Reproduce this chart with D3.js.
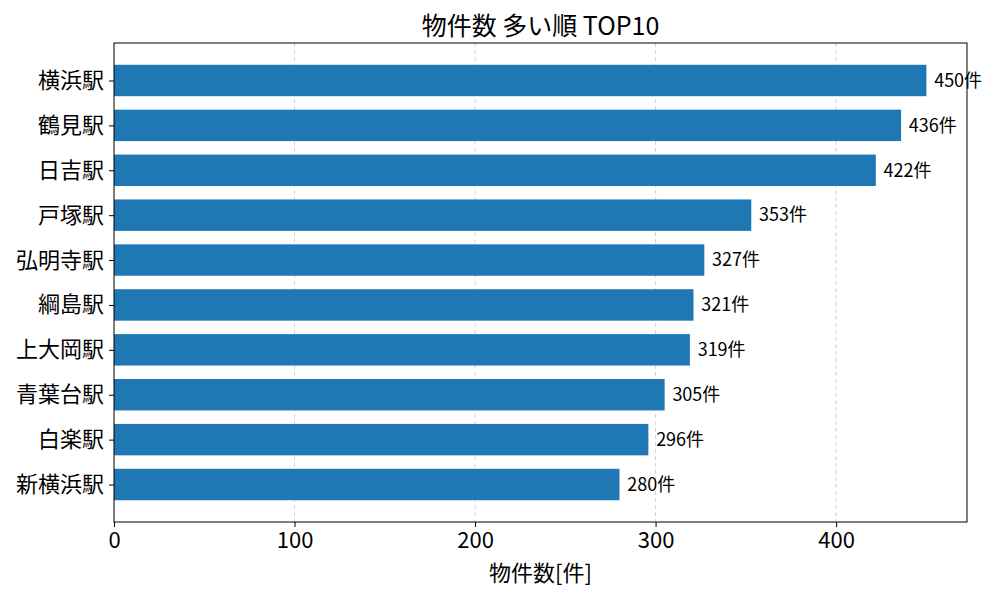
<!DOCTYPE html>
<html>
<head>
<meta charset="utf-8">
<script src="https://cdn.jsdelivr.net/npm/d3@7"></script>
<style>
  body { margin: 0; background: #fff; }
  text { font-family: "Noto Sans CJK JP", "Noto Sans", sans-serif; fill: #000; }
</style>
</head>
<body>
<svg id="chart" width="1000" height="600"></svg>
<script>
const stations = ['横浜駅', '鶴見駅', '日吉駅', '戸塚駅', '弘明寺駅', '綱島駅', '上大岡駅', '青葉台駅', '白楽駅', '新横浜駅']
const counts = [450, 436, 422, 353, 327, 321, 319, 305, 296, 280]
const xTicks = [0, 100, 200, 300, 400]

const svg = d3.select('#chart')
const plotLeft = 114, plotRight = 967, plotTop = 43, plotBottom = 522

// matplotlib-style limits: 5% margin on the right, bar height 0.7
const x = d3.scaleLinear().domain([0, d3.max(counts) * 1.05]).range([plotLeft, plotRight])
const y = d3.scaleLinear().domain([-0.835, stations.length - 1 + 0.835]).range([plotTop, plotBottom])
const barH = 0.7

// grid
svg.append('g')
  .selectAll('line')
  .data(xTicks.filter(d => d > 0))
  .join('line')
  .attr('x1', d => x(d)).attr('x2', d => x(d))
  .attr('y1', plotTop).attr('y2', plotBottom)
  .attr('stroke', '#c8c8c8')
  .attr('stroke-width', 0.8)
  .attr('stroke-dasharray', '4,3')

// bars
svg.append('g')
  .selectAll('rect')
  .data(counts)
  .join('rect')
  .attr('x', x(0))
  .attr('y', (d, i) => y(i - barH / 2))
  .attr('width', d => x(d) - x(0))
  .attr('height', y(barH) - y(0))
  .attr('fill', '#1f77b4')

// value labels
svg.append('g')
  .selectAll('text')
  .data(counts)
  .join('text')
  .attr('x', d => x(d + 4.3))
  .attr('y', (d, i) => y(i))
  .attr('dy', '0.35em')
  .attr('font-size', 18)
  .text(d => d + '件')

// axes
const xAxis = svg.append('g')
  .attr('transform', `translate(0,${plotBottom})`)
  .call(d3.axisBottom(x).tickValues(xTicks).tickSize(5).tickPadding(5).tickFormat(d3.format('d')))
xAxis.select('.domain').remove()
xAxis.selectAll('text').attr('font-size', 22).style('font-family', '"Noto Sans CJK JP", sans-serif')
xAxis.selectAll('line').attr('stroke', '#000').attr('stroke-width', 1)

const yAxis = svg.append('g')
  .attr('transform', `translate(${plotLeft},0)`)
  .call(d3.axisLeft(y).tickValues(d3.range(stations.length)).tickSize(5).tickPadding(5).tickFormat(i => stations[i]))
yAxis.select('.domain').remove()
yAxis.selectAll('text').attr('font-size', 22).style('font-family', '"Noto Sans CJK JP", sans-serif')
yAxis.selectAll('line').attr('stroke', '#000').attr('stroke-width', 1)

// frame
svg.append('rect')
  .attr('x', plotLeft).attr('y', plotTop)
  .attr('width', plotRight - plotLeft).attr('height', plotBottom - plotTop)
  .attr('fill', 'none')
  .attr('stroke', '#000')
  .attr('stroke-width', 1)

svg.append('text')
  .attr('x', (plotLeft + plotRight) / 2).attr('y', 35)
  .attr('text-anchor', 'middle')
  .attr('font-size', 25)
  .text('物件数 多い順 TOP10')

svg.append('text')
  .attr('x', (plotLeft + plotRight) / 2).attr('y', 581)
  .attr('text-anchor', 'middle')
  .attr('font-size', 22)
  .text('物件数[件]')
</script>
</body>
</html>
